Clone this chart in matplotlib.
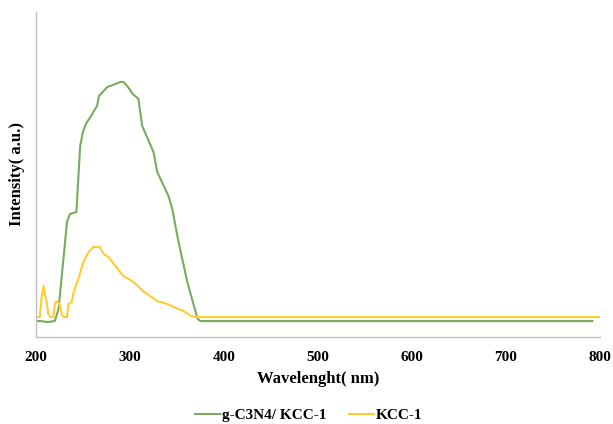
import matplotlib
matplotlib.use("Agg")
import matplotlib.pyplot as plt

# g-C3N4/ KCC-1 spectrum (wavelength nm, intensity a.u.)
green_wl = [199, 205, 212, 220, 224, 233, 236, 243, 247, 250, 253, 258, 265, 267, 276, 282,
            290, 293, 297, 303, 309, 313, 319, 325, 329, 336, 341, 345, 351, 361, 372, 375, 792]
green_int = [16, 16, 15, 16, 28, 115, 123, 125, 191, 205, 213, 220, 231, 241, 250, 252,
             255, 255, 251, 243, 238, 211, 198, 185, 165, 151, 141, 128, 98, 55, 18, 16, 16]

# KCC-1 spectrum
yellow_wl = [199, 204, 206, 208, 210, 211, 213, 215, 218.5, 220, 222, 225, 227.5, 229, 233,
             234.5, 238, 240, 245, 250.5, 256, 261, 268, 272, 277, 284.5, 293, 304, 314, 329,
             340, 346.5, 357, 365, 372, 800]
yellow_int = [20, 20, 40, 51, 40, 38, 23, 20, 20, 33, 36, 33, 23, 20, 20,
              33, 35, 45, 58, 75, 85, 90, 90, 83, 80, 71, 61, 55, 46, 36,
              33, 30, 26, 21, 20, 20]

xticks = [200, 300, 400, 500, 600, 700, 800]
labels = ["g-C3N4/ KCC-1", "KCC-1"]

plt.rcParams['font.family'] = ['Liberation Serif', 'DejaVu Serif']

fig = plt.figure(figsize=(6.13, 4.24), dpi=100)
ax = fig.add_axes([0.0587, 0.205, 0.920, 0.767])

ax.plot(green_wl, green_int, color="#7aab5e", lw=1.5, label=labels[0])
ax.plot(yellow_wl, yellow_int, color="#ffcc33", lw=1.5, label=labels[1])

ax.set_xlim(200, 800)
ax.set_ylim(0, 325)
ax.set_xticks(xticks)
ax.set_xticklabels([str(t) for t in xticks], fontweight="bold", fontsize=11)
ax.set_yticks([])
ax.tick_params(axis="x", length=0, pad=10)
for s in ["top", "right"]:
    ax.spines[s].set_visible(False)
for s in ["left", "bottom"]:
    ax.spines[s].set_color("#c0c0c0")
    ax.spines[s].set_linewidth(1.0)

ax.set_xlabel("Wavelenght( nm)", fontweight="bold", fontsize=12, labelpad=5)
ax.set_ylabel("Intensity( a.u.)", fontweight="bold", fontsize=12, labelpad=8)

fig.legend(loc="center", bbox_to_anchor=(0.504, 0.021), ncol=2, frameon=False,
           prop={"weight": "bold", "size": 11}, handlelength=1.6, columnspacing=1.5,
           handletextpad=0.15)

fig.savefig("out.png", dpi=100)
